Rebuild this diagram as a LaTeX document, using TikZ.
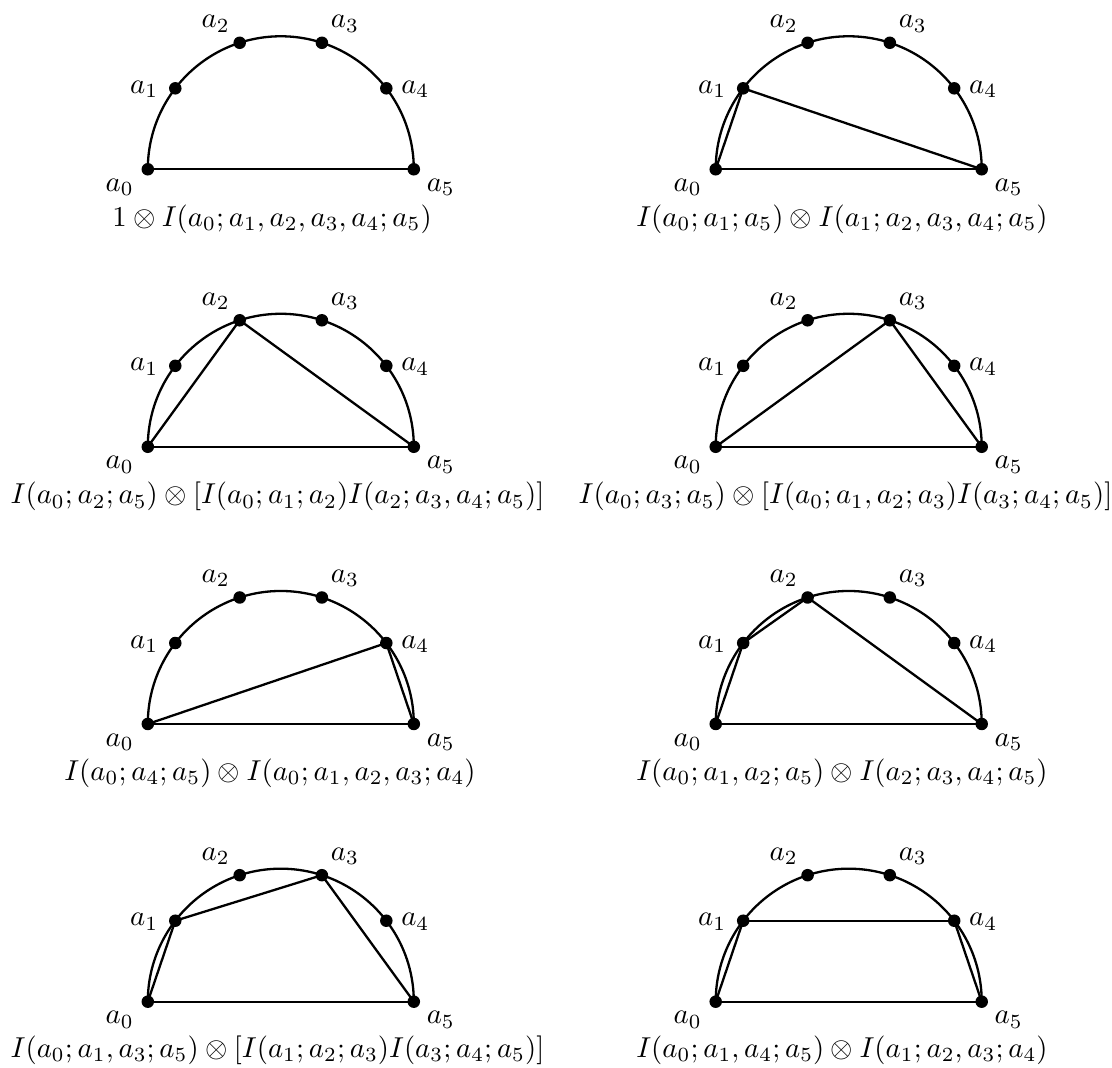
\documentclass[tikz,border=0pt]{standalone}
\usetikzlibrary{calc}
\tikzset{
  x=0.3476pt, y=0.3476pt,
  dot/.style={circle, fill=black, draw=none, inner sep=0pt, minimum size=4.35pt},
  ln/.style={line width=0.8pt, black},
  lab/.style={inner sep=0pt},
  captext/.style={inner sep=0pt}
}
\newcommand\drawpanel[4]{%
  \foreach \k/\ang in {0/180,1/142.5,2/108,3/72,4/37.5,5/0}{%
    \node[dot] (#1a\k) at ({#2+133*cos(\ang)},{#3+133*sin(\ang)}) {};}
  \draw[ln] (#1a5.center) arc[start angle=0, end angle=180, radius=46.23pt];
  \foreach \p/\q in {#4}{\draw[ln] (#1a\p.center) -- (#1a\q.center);}
  \node[lab] (#1l0) at ([shift={(-28,-18)}]#1a0.center) {$a_0$};
  \node[lab] (#1l1) at ([shift={(-31,-1)}]#1a1.center) {$a_1$};
  \node[lab] (#1l2) at ([shift={(-24,19)}]#1a2.center) {$a_2$};
  \node[lab] (#1l3) at ([shift={(23,19)}]#1a3.center) {$a_3$};
  \node[lab] (#1l4) at ([shift={(29,-1)}]#1a4.center) {$a_4$};
  \node[lab] (#1l5) at ([shift={(27,-18)}]#1a5.center) {$a_5$};
}
\begin{document}
\begin{tikzpicture}
\useasboundingbox (0,0) rectangle (1112,1068);
% row 1
\drawpanel{A}{280.8}{898.7}{0/5}
\drawpanel{B}{848.7}{898.7}{0/5,0/1,1/5}
\node[captext] (capA) at (272,848.7) {$1\otimes I(a_0;a_1,a_2,a_3,a_4;a_5)$};
\node[captext] (capB) at (842,848.7) {$I(a_0;a_1;a_5)\otimes I(a_1;a_2,a_3,a_4;a_5)$};
% row 2
\drawpanel{C}{280.8}{621.2}{0/5,0/2,2/5}
\drawpanel{D}{848.7}{621.2}{0/5,0/3,3/5}
\node[captext] (capC) at (277.5,571.2) {$I(a_0;a_2;a_5)\otimes [I(a_0;a_1;a_2)I(a_2;a_3,a_4;a_5)]$};
\node[captext] (capD) at (845.5,571.2) {$I(a_0;a_3;a_5)\otimes [I(a_0;a_1,a_2;a_3)I(a_3;a_4;a_5)]$};
% row 3
\drawpanel{E}{280.8}{344}{0/5,0/4,4/5}
\drawpanel{F}{848.7}{344}{0/5,0/1,1/2,2/5}
\node[captext] (capE) at (270,295) {$I(a_0;a_4;a_5)\otimes I(a_0;a_1,a_2,a_3;a_4)$};
\node[captext] (capF) at (842,295) {$I(a_0;a_1,a_2;a_5)\otimes I(a_2;a_3,a_4;a_5)$};
% row 4
\drawpanel{G}{280.8}{66.3}{0/5,0/1,1/3,3/5}
\drawpanel{H}{848.7}{66.3}{0/5,0/1,1/4,4/5}
\node[captext] (capG) at (277.5,18) {$I(a_0;a_1,a_3;a_5)\otimes [I(a_1;a_2;a_3)I(a_3;a_4;a_5)]$};
\node[captext] (capH) at (842,18) {$I(a_0;a_1,a_4;a_5)\otimes I(a_1;a_2,a_3;a_4)$};
\end{tikzpicture}
\end{document}
